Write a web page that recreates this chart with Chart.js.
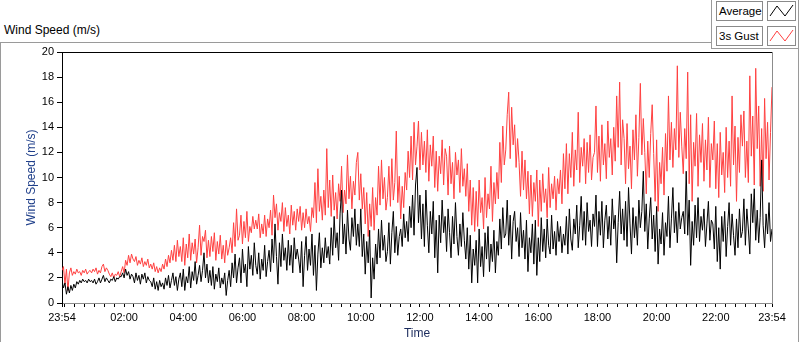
<!DOCTYPE html>
<html>
<head>
<meta charset="utf-8">
<script src="https://cdn.jsdelivr.net/npm/chart.js@4.4.1/dist/chart.umd.min.js"></script>
<style>
  body { margin: 0; width: 800px; height: 342px; background: #fff; overflow: hidden; position: relative;
         font-family: "Liberation Sans", Arial, sans-serif; }
  #painel { position: absolute; left: 0; top: 42px; width: 797px; height: 320px; border: 1px solid #9a9a9a; }
  #titulo { position: absolute; left: 4px; top: 23px; font-size: 12px; line-height: 14px; color: #000; }
  #moldLegenda { position: absolute; left: 711px; top: -1px; width: 86px; height: 48px; border: 1px solid #9a9a9a; background: #fff; }
  .rotulo { position: absolute; box-sizing: border-box; height: 20px; border: 1px solid #8a8a8a; background: #fff;
            font-size: 11.5px; line-height: 18px; padding-left: 2px; color: #000; white-space: nowrap; }
  .icone { position: absolute; box-sizing: border-box; width: 29px; height: 20px; border: 1px solid #8a8a8a; background: #fff; }
  canvas { position: absolute; left: 0; top: 0; }
</style>
</head>
<body>
<div id="painel"></div>
<div id="titulo">Wind Speed (m/s)</div>
<div id="moldLegenda"></div>
<div id="legenda"></div>
<canvas id="grafico" width="800" height="342"></canvas>
<script>
// minutos desde 23:54, uma amostra a cada 3 min (20 por hora, uma linha por hora)
const intervaloMin = 3;

const marcasHora = [0, 126, 246, 366, 486, 606, 726, 846, 966, 1086, 1206, 1326, 1440];
const rotulosHora = ["23:54", "02:00", "04:00", "06:00", "08:00", "10:00", "12:00",
  "14:00", "16:00", "18:00", "20:00", "22:00", "23:54"];

const nomesSeries = ["Average", "3s Gust"];
const coresSeries = ["#000000", "#ff4040"];

const velocidadeMedia = [
  1.8, 1.2, 1.6, 0.7, 1.3, 0.8, 1.4, 1.0, 1.5, 1.2, 1.7, 1.5, 1.8, 1.6, 1.9, 1.7, 1.8, 1.6, 1.9, 1.7,
  1.8, 1.6, 1.9, 1.5, 1.7, 2.0, 1.6, 1.9, 2.2, 1.7, 2.0, 1.8, 1.6, 1.9, 1.8, 2.1, 1.7, 2.0, 1.9, 2.1,
  2.1, 2.4, 2.0, 2.7, 2.2, 2.5, 1.9, 2.3, 2.1, 1.6, 2.4, 1.8, 2.2, 1.5, 2.3, 1.9, 2.4, 1.6, 2.1, 1.8,
  1.7, 1.3, 2.0, 1.1, 1.7, 1.0, 1.8, 1.3, 1.6, 1.1, 2.0, 1.4, 2.2, 1.2, 1.8, 2.4, 1.4, 2.1, 1.0, 1.9,
  2.4, 1.3, 2.7, 1.0, 2.1, 1.6, 2.9, 1.2, 2.5, 1.8, 3.3, 1.5, 2.2, 3.0, 1.7, 2.6, 4.0, 2.0, 3.1, 1.6,
  2.6, 1.4, 2.9, 1.1, 2.3, 1.7, 2.8, 1.2, 2.0, 1.5, 2.4, 0.6, 1.8, 2.6, 1.3, 3.2, 2.0, 3.9, 1.6, 2.8,
  3.6, 1.6, 4.3, 2.4, 3.1, 1.3, 4.5, 2.7, 3.8, 2.2, 4.8, 3.0, 2.3, 4.0, 1.9, 3.5, 2.6, 4.6, 2.1, 3.3,
  4.2, 2.5, 5.1, 3.2, 6.3, 3.7, 1.5, 4.8, 2.9, 5.5, 3.4, 4.4, 2.6, 5.0, 3.0, 4.6, 2.4, 5.2, 3.5, 4.3,
  3.5, 2.4, 4.9, 1.3, 3.8, 5.3, 2.6, 4.3, 3.0, 5.5, 2.2, 4.6, 1.0, 3.9, 5.6, 2.8, 4.4, 3.2, 5.2, 3.6,
  4.5, 3.1, 6.0, 3.8, 6.9, 4.4, 5.6, 3.4, 7.1, 9.0, 4.7, 6.3, 3.9, 7.4, 5.1, 4.2, 6.8, 5.3, 7.5, 4.6,
  6.3, 4.5, 7.5, 3.7, 5.5, 2.3, 4.9, 3.2, 5.8, 0.4, 3.6, 1.9, 4.7, 3.1, 5.9, 3.6, 6.6, 4.2, 5.4, 3.3,
  4.1, 6.4, 3.1, 5.6, 7.3, 4.0, 6.1, 3.8, 5.3, 5.9, 4.5, 7.1, 5.2, 6.5, 4.9, 7.7, 6.0, 8.6, 5.4, 9.4,
  10.8, 6.4, 8.6, 5.1, 7.9, 4.5, 9.0, 6.2, 4.0, 7.3, 5.5, 8.1, 3.6, 6.6, 2.4, 7.0, 4.8, 8.2, 5.6, 6.9,
  4.1, 7.5, 5.6, 3.6, 6.9, 4.7, 8.0, 5.3, 3.8, 6.3, 4.5, 7.2, 5.0, 3.5, 6.0, 2.7, 5.4, 1.6, 4.3, 3.0,
  5.0, 1.6, 5.9, 2.9, 4.5, 2.1, 5.6, 3.5, 6.1, 2.5, 4.7, 3.3, 5.8, 2.4, 4.9, 3.8, 6.7, 4.3, 7.6, 5.2,
  5.5, 8.2, 4.6, 7.0, 3.5, 6.5, 7.3, 4.9, 6.0, 3.7, 7.2, 4.4, 5.8, 3.5, 6.6, 2.5, 5.2, 4.0, 6.3, 3.1,
  6.6, 2.2, 5.2, 3.3, 6.8, 4.1, 5.9, 3.6, 6.7, 4.6, 3.9, 7.0, 4.3, 5.7, 3.8, 6.5, 4.9, 6.1, 4.0, 5.5,
  4.6, 6.9, 3.9, 7.5, 5.1, 4.2, 6.7, 5.5, 7.8, 4.4, 6.2, 8.5, 5.0, 7.3, 4.6, 8.0, 5.7, 6.6, 4.5, 7.1,
  6.1, 8.6, 4.5, 7.3, 5.4, 8.1, 4.4, 6.6, 7.8, 5.1, 6.9, 4.6, 8.3, 5.9, 7.0, 3.2, 6.4, 8.9, 5.5, 7.5,
  5.0, 8.1, 4.5, 9.2, 6.3, 3.9, 7.6, 5.2, 6.9, 4.6, 8.2, 6.0, 7.3, 10.5, 5.7, 7.9, 4.3, 6.7, 8.4, 5.1,
  7.0, 4.1, 7.7, 3.1, 5.9, 4.7, 7.2, 3.8, 6.4, 5.3, 8.5, 4.4, 6.7, 9.2, 5.6, 7.3, 4.8, 8.0, 5.9, 6.8,
  7.3, 5.5, 10.5, 5.4, 8.2, 3.0, 6.5, 4.6, 7.8, 5.2, 8.4, 4.9, 6.9, 5.8, 7.5, 4.5, 6.3, 8.1, 5.0, 6.6,
  6.3, 4.3, 7.7, 3.3, 6.0, 2.7, 6.9, 4.9, 7.3, 3.7, 6.1, 8.0, 4.6, 7.1, 5.4, 3.8, 6.7, 4.4, 7.5, 5.2,
  5.7, 8.3, 4.6, 7.5, 5.9, 3.9, 8.7, 6.4, 9.1, 5.0, 7.4, 4.8, 6.8, 11.4, 6.2, 4.4, 7.1, 5.5, 8.0, 4.9,
  5.9
];

const rajada3s = [
  2.6, 2.9, 1.5, 2.7, 1.0, 2.4, 2.8, 2.2, 2.5, 2.3, 2.7, 2.4, 2.5, 2.2, 2.6, 2.4, 2.7, 2.3, 2.5, 2.6,
  2.4, 2.7, 2.5, 2.8, 2.3, 2.6, 2.4, 2.9, 3.1, 2.5, 2.8, 2.6, 2.3, 2.1, 2.4, 2.0, 2.3, 2.2, 2.5, 2.1,
  2.5, 2.9, 2.4, 3.4, 3.0, 3.8, 3.2, 3.9, 3.5, 3.3, 3.7, 3.0, 3.4, 3.1, 3.6, 2.9, 3.3, 3.0, 3.5, 2.8,
  3.1, 2.7, 3.2, 2.5, 2.9, 2.4, 2.8, 2.5, 3.1, 2.7, 3.5, 2.9, 3.8, 3.2, 4.2, 3.4, 4.6, 3.3, 5.0, 3.7,
  4.5, 3.3, 5.2, 3.0, 4.7, 3.6, 5.5, 3.4, 4.8, 3.9, 5.1, 3.2, 4.4, 6.2, 3.8, 5.3, 4.9, 5.8, 3.6, 5.0,
  3.7, 5.3, 4.1, 5.6, 3.4, 4.9, 3.9, 5.4, 3.5, 4.6, 3.2, 5.0, 3.8, 4.4, 5.2, 4.0, 6.4, 4.5, 7.5, 5.0,
  5.4, 7.0, 4.7, 6.5, 5.2, 7.3, 4.9, 6.1, 5.6, 6.9, 5.9, 6.6, 5.9, 7.1, 5.2, 6.3, 5.5, 7.0, 5.3, 6.7,
  6.0, 7.4, 5.4, 8.6, 6.8, 7.9, 5.8, 7.2, 6.5, 8.0, 5.7, 7.6, 6.1, 7.0, 5.5, 7.8, 6.2, 7.3, 5.8, 7.5,
  6.5, 7.7, 5.8, 7.2, 6.0, 7.5, 6.3, 6.9, 5.7, 7.6, 6.8, 9.6, 6.4, 10.7, 7.3, 8.5, 6.6, 9.0, 7.0, 12.3,
  7.6, 9.8, 6.9, 10.2, 7.4, 8.8, 6.7, 9.5, 8.1, 10.9, 7.2, 9.0, 7.9, 11.8, 8.3, 10.1, 7.5, 9.7, 8.6, 11.2,
  12.0, 8.2, 10.3, 7.5, 9.2, 6.3, 8.8, 5.3, 7.9, 6.1, 9.2, 5.8, 8.4, 7.0, 10.9, 7.8, 11.4, 8.3, 10.0, 7.4,
  8.4, 10.9, 7.7, 11.5, 8.2, 9.6, 13.7, 8.0, 10.1, 6.7, 9.3, 7.6, 10.4, 9.0, 12.1, 10.0, 13.3, 9.8, 14.4, 11.0,
  12.5, 14.5, 10.6, 13.6, 11.0, 12.9, 10.4, 13.8, 9.7, 12.6, 10.9, 13.3, 9.2, 12.1, 8.9, 11.7, 10.3, 13.0, 9.4, 12.3,
  11.7, 8.6, 12.5, 9.5, 11.2, 8.3, 12.0, 10.2, 11.4, 8.8, 12.3, 9.3, 10.7, 8.5, 11.1, 7.3, 9.8, 6.2, 9.2, 5.7,
  8.9, 6.1, 9.8, 7.2, 8.4, 5.9, 10.0, 6.8, 8.7, 7.5, 10.9, 6.5, 9.6, 7.9, 10.4, 8.3, 12.8, 9.6, 14.1, 11.0,
  12.2, 15.0, 16.8, 11.5, 15.6, 12.6, 14.2, 10.8, 13.1, 11.2, 8.5, 12.1, 9.0, 11.4, 8.3, 10.5, 7.1, 10.2, 6.9, 9.6,
  8.1, 10.6, 6.1, 9.8, 7.3, 10.3, 8.0, 9.1, 6.8, 10.8, 7.6, 9.5, 8.3, 10.1, 7.4, 9.9, 8.7, 10.6, 7.9, 11.9,
  9.1, 12.7, 8.7, 11.9, 10.0, 13.6, 9.3, 12.2, 10.6, 15.2, 9.6, 12.4, 10.9, 13.1, 9.5, 12.8, 10.4, 13.4, 9.8, 11.6,
  12.0, 15.7, 10.4, 13.3, 9.7, 14.2, 11.0, 12.7, 9.9, 14.5, 11.6, 13.1, 10.2, 14.0, 11.3, 16.5, 12.4, 17.6, 11.0, 14.6,
  13.1, 9.5, 14.3, 10.7, 12.5, 9.1, 13.8, 11.4, 15.0, 10.1, 13.2, 17.5, 11.8, 14.7, 12.0, 8.7, 12.9, 10.0, 13.5, 15.8,
  11.9, 8.1, 13.0, 7.3, 11.2, 9.5, 12.4, 8.6, 13.5, 10.5, 16.5, 11.4, 14.4, 10.8, 13.9, 12.2, 18.9, 11.6, 15.2, 12.5,
  10.3, 13.9, 11.5, 18.4, 9.5, 15.0, 8.1, 12.8, 10.9, 15.1, 9.3, 13.4, 11.2, 14.3, 9.7, 13.0, 10.6, 14.8, 9.2, 12.7,
  11.4, 14.5, 9.1, 12.7, 8.4, 13.6, 10.2, 12.0, 8.8, 14.0, 10.0, 12.9, 9.3, 16.5, 11.0, 14.1, 8.1, 13.2, 10.4, 15.0,
  12.5, 15.3, 10.0, 12.9, 9.6, 18.1, 11.7, 14.9, 9.4, 18.7, 12.3, 15.7, 9.3, 13.9, 8.9, 16.3, 11.5, 14.4, 9.8, 13.6,
  17.2
];

// marcas menores a cada 20 min a partir de 00:00
const ticksX = [0];
for (let m = 6; m < 1440; m += 20) ticksX.push(m);
ticksX.push(1440);

function pontos(valores) {
  return valores.map((v, i) => ({ x: i * intervaloMin, y: v }));
}

// legenda em caixas, estilo painel
const legenda = document.getElementById("legenda");
nomesSeries.forEach((nome, i) => {
  const topo = 1 + i * 25;
  legenda.innerHTML += `<div class="rotulo" style="left:716px;top:${topo}px;width:47px">${nome}</div>
    <div class="icone" style="left:767px;top:${topo}px">
      <svg width="27" height="18"><polyline points="2,14 9,4 17,14 25,3" fill="none" stroke="${coresSeries[i]}" stroke-width="1"/></svg>
    </div>`;
});

const moldura = {
  id: "moldura",
  afterDraw(chart) {
    const { ctx, chartArea: a } = chart;
    ctx.save();
    ctx.lineWidth = 1;
    ctx.strokeStyle = "#000";
    ctx.beginPath();
    ctx.moveTo(a.left, Math.round(a.top) + 0.5);
    ctx.lineTo(a.right, Math.round(a.top) + 0.5);
    ctx.stroke();
    ctx.strokeStyle = "#8c8c8c";
    ctx.beginPath();
    ctx.moveTo(Math.round(a.right) + 0.5, a.top);
    ctx.lineTo(Math.round(a.right) + 0.5, a.bottom);
    ctx.stroke();
    ctx.restore();
  }
};

Chart.defaults.font.family = '"Liberation Sans", Arial, sans-serif';

new Chart(document.getElementById("grafico"), {
  type: "line",
  data: {
    datasets: [
      { label: nomesSeries[0], data: pontos(velocidadeMedia), borderColor: coresSeries[0] },
      { label: nomesSeries[1], data: pontos(rajada3s), borderColor: coresSeries[1] }
    ]
  },
  options: {
    responsive: false,
    animation: false,
    devicePixelRatio: 1,
    layout: { padding: { left: 0, top: 52, right: 28, bottom: 0 } },
    elements: { point: { radius: 0 }, line: { borderWidth: 1, tension: 0 } },
    plugins: { legend: { display: false }, tooltip: { enabled: false } },
    scales: {
      x: {
        type: "linear",
        min: 0,
        max: 1440,
        afterFit: s => { s.height = 39; },
        afterBuildTicks: s => { s.ticks = ticksX.map(v => ({ value: v })); },
        ticks: {
          autoSkip: false,
          maxRotation: 0,
          minRotation: 0,
          padding: 4,
          color: "#000",
          font: { size: 11 },
          callback: v => {
            const k = marcasHora.indexOf(v);
            return k >= 0 ? rotulosHora[k] : "";
          }
        },
        grid: { drawOnChartArea: false, tickLength: 4, color: "#000" },
        border: { color: "#8c8c8c" },
        title: { display: true, text: "Time", color: "#1a2a5c", font: { size: 12 }, padding: { top: 0, bottom: 1 } }
      },
      y: {
        min: 0,
        max: 20,
        afterFit: s => { s.width = 62; },
        ticks: { stepSize: 2, padding: 3, color: "#000", font: { size: 11 } },
        grid: { drawOnChartArea: false, tickLength: 5, color: "#000" },
        border: { color: "#000" },
        title: { display: true, text: "Wind Speed (m/s)", color: "#1f3f8a", font: { size: 12 }, padding: { top: 24, bottom: 0 } }
      }
    }
  },
  plugins: [moldura]
});
</script>
</body>
</html>
